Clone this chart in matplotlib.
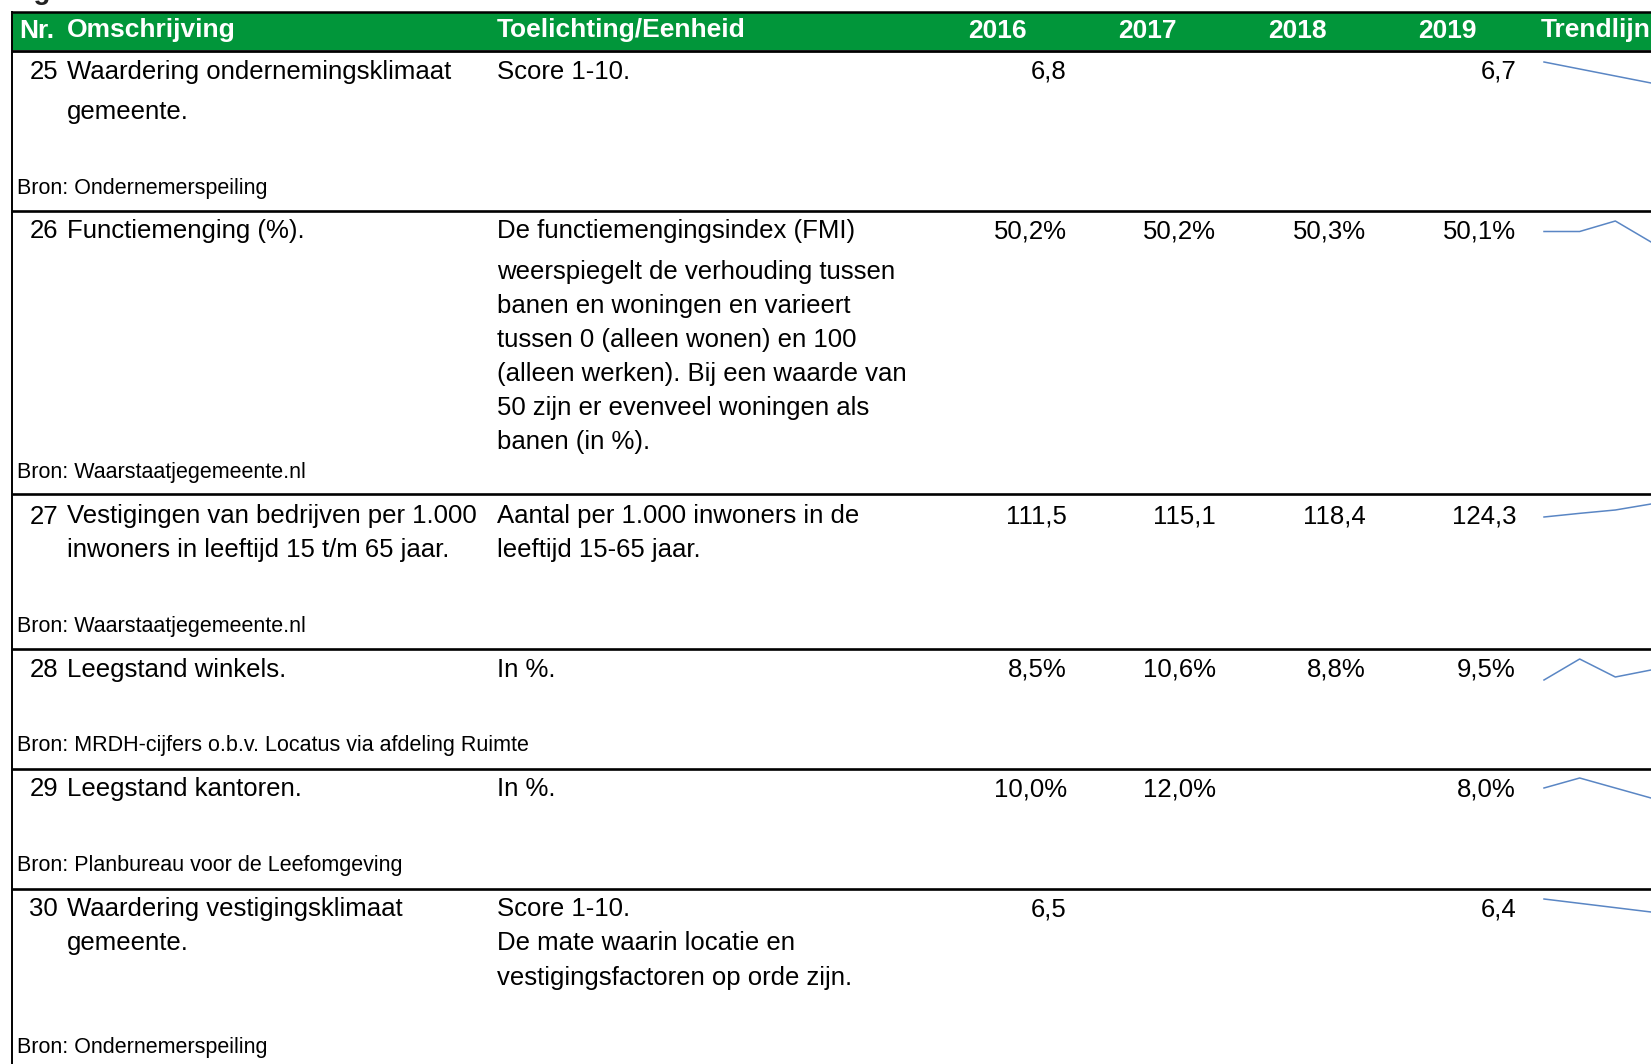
import numpy as np
import matplotlib
matplotlib.use("Agg")
import matplotlib.pyplot as plt

# ---------------- data ----------------
years = ["2016", "2017", "2018", "2019"]
nrs = [25, 26, 27, 28, 29, 30]
omschrijving = [
    ["Waardering ondernemingsklimaat", "gemeente."],
    ["Functiemenging (%)."],
    ["Vestigingen van bedrijven per 1.000", "inwoners in leeftijd 15 t/m 65 jaar."],
    ["Leegstand winkels."],
    ["Leegstand kantoren."],
    ["Waardering vestigingsklimaat", "gemeente."],
]
toelichting = [
    ["Score 1-10."],
    ["De functiemengingsindex (FMI)", "weerspiegelt de verhouding tussen",
     "banen en woningen en varieert", "tussen 0 (alleen wonen) en 100",
     "(alleen werken). Bij een waarde van", "50 zijn er evenveel woningen als",
     "banen (in %)."],
    ["Aantal per 1.000 inwoners in de", "leeftijd 15-65 jaar."],
    ["In %."],
    ["In %."],
    ["Score 1-10.", "De mate waarin locatie en", "vestigingsfactoren op orde zijn."],
]
bron = [
    "Bron: Ondernemerspeiling",
    "Bron: Waarstaatjegemeente.nl",
    "Bron: Waarstaatjegemeente.nl",
    "Bron: MRDH-cijfers o.b.v. Locatus via afdeling Ruimte",
    "Bron: Planbureau voor de Leefomgeving",
    "Bron: Ondernemerspeiling",
]
nan = np.nan
v2016 = [6.8, 50.2, 111.5, 8.5, 10.0, 6.5]
v2017 = [nan, 50.2, 115.1, 10.6, 12.0, nan]
v2018 = [nan, 50.3, 118.4, 8.8, nan, nan]
v2019 = [6.7, 50.1, 124.3, 9.5, 8.0, 6.4]
is_pct = [False, True, False, True, True, False]

# ---------------- layout (pixels) ----------------
W, H = 1651, 1064
GREEN = "#01963A"
SPARK = "#5A86C4"
FONT = ["Liberation Sans", "DejaVu Sans"]
BODY = 18.5
BRON = 15.5
HEAD = 19

row_tops = [50, 210.5, 494, 649, 769, 889]
first_y = [72, 231, 516.5, 670, 789, 909]
omsch_dy = [[0, 40], [0], [0, 33.7], [0], [0], [0, 33.7]]
toel_dy = [[0], [0, 41, 74.8, 108.5, 143.2, 176.9, 210.5], [0, 33.7], [0], [0], [0, 33.7, 68.5]]
bron_y = [188.5, 472.7, 626.4, 745.4, 865.5, 1047.6]
val_right = [1067, 1216, 1366, 1516]
year_center = [997, 1147, 1297, 1447]
spark_top = [62, 221, 504, 659, 778, 899]
spark_h = [21, 21, 13, 21, 20, 13]
spark_x0, spark_w = 1544, 107

fig = plt.figure(figsize=(W / 100, H / 100), dpi=100)
ax = fig.add_axes([0, 0, 1, 1])
ax.set_xlim(0, W)
ax.set_ylim(H, 0)
ax.axis("off")

# partial title at the very top (mostly cut off in the reference)
ax.text(-2, -1, "Regionale economie", fontsize=20, fontweight="bold",
        family=FONT, va="baseline", ha="left", color="#222222")

# header band
ax.fill_between([12, W], 11.5, 50, color=GREEN, lw=0)
ax.plot([12, W], [11.5, 11.5], color="black", lw=1.8, solid_capstyle="butt")
ax.plot([12, W], [50.5, 50.5], color="black", lw=2.0, solid_capstyle="butt")
ax.plot([11.5, 11.5], [10.5, H], color="black", lw=1.4, solid_capstyle="butt")

hy = 30.5
ax.text(19, hy, "Nr.", color="white", fontsize=HEAD, fontweight="bold", family=FONT, va="center", ha="left")
ax.text(67, hy, "Omschrijving", color="white", fontsize=HEAD, fontweight="bold", family=FONT, va="center", ha="left")
ax.text(497, hy, "Toelichting/Eenheid", color="white", fontsize=HEAD, fontweight="bold", family=FONT, va="center", ha="left")
for yr, xc in zip(years, year_center):
    ax.text(xc, hy, yr, color="white", fontsize=HEAD, fontweight="bold", family=FONT, va="center", ha="center")
ax.text(1541, hy, "Trendlijn", color="white", fontsize=HEAD, fontweight="bold", family=FONT, va="center", ha="left")


def fmt(v, pct):
    s = f"{v:.1f}".replace(".", ",")
    return s + "%" if pct else s


values = [v2016, v2017, v2018, v2019]
for i in range(len(nrs)):
    if i > 0:
        ax.plot([12, W], [row_tops[i], row_tops[i]], color="black", lw=1.9, solid_capstyle="butt")
    y0 = first_y[i]
    ax.text(58, y0, str(nrs[i]), fontsize=BODY, family=FONT, va="center", ha="right")
    for line, dy in zip(omschrijving[i], omsch_dy[i]):
        ax.text(67, y0 + dy, line, fontsize=BODY, family=FONT, va="center", ha="left")
    for line, dy in zip(toelichting[i], toel_dy[i]):
        ax.text(497, y0 + dy, line, fontsize=BODY, family=FONT, va="center", ha="left")
    for k in range(4):
        v = values[k][i]
        if not np.isnan(v):
            ax.text(val_right[k], y0, fmt(v, is_pct[i]), fontsize=BODY, family=FONT, va="center", ha="right")
    ax.text(17, bron_y[i], bron[i], fontsize=BRON, family=FONT, va="center", ha="left")

    # sparkline
    ys = np.array([values[k][i] for k in range(4)], dtype=float)
    xs = np.arange(4, dtype=float)
    m = ~np.isnan(ys)
    sax = fig.add_axes([spark_x0 / W, 1 - (spark_top[i] + spark_h[i]) / H, spark_w / W, spark_h[i] / H])
    sax.plot(xs[m], ys[m], color=SPARK, lw=1.1, clip_on=False)
    sax.set_xlim(0, 3)
    sax.set_ylim(np.nanmin(ys), np.nanmax(ys))
    sax.axis("off")

fig.savefig("out.png", dpi=100)
